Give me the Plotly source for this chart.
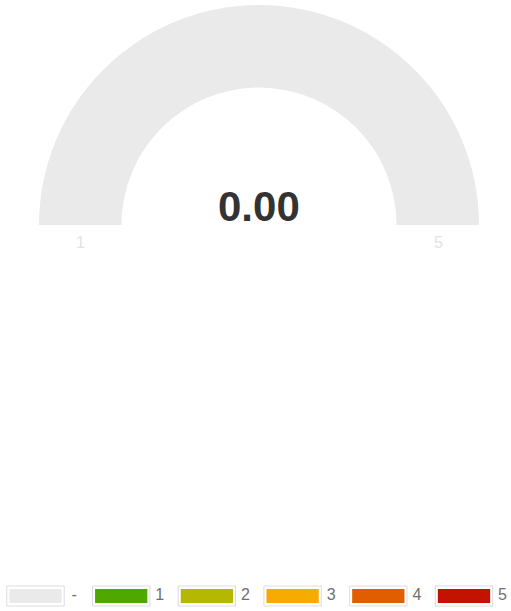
import plotly.graph_objects as go

# gauge data
gauge_value = 0.0
gauge_min = 1
gauge_max = 5
gauge_color = '#eaeaea'

# legend data
legend_labels = ['-', '1', '2', '3', '4', '5']
legend_colors = ['#eaeaea', '#4ea800', '#b5b800', '#f7aa00', '#e05e00', '#c41200']

W, H = 511, 611

fig = go.Figure()

# half ring: top half coloured, bottom half transparent
fig.add_trace(go.Pie(
    values=[1, 1],
    marker=dict(colors=[gauge_color, 'rgba(0,0,0,0)'], line=dict(width=0)),
    hole=0.625,
    rotation=-90,
    direction='clockwise',
    sort=False,
    textinfo='none',
    hoverinfo='skip',
    showlegend=False,
    domain=dict(x=[39 / W, 479 / W], y=[1 - 445 / H, 1 - 5 / H]),
))

# legend swatches drawn as bars on a hidden axis at the bottom
idx = list(range(len(legend_labels)))
fig.add_trace(go.Bar(
    x=idx, y=[20] * len(idx), base=5, width=0.67,
    marker=dict(color='white', line=dict(color='#dddddd', width=1)),
    hoverinfo='skip', showlegend=False, xaxis='x', yaxis='y',
))
fig.add_trace(go.Bar(
    x=idx, y=[14] * len(idx), base=8, width=0.61,
    marker=dict(color=legend_colors, line=dict(width=0)),
    hoverinfo='skip', showlegend=False, xaxis='x', yaxis='y',
))
fig.add_trace(go.Scatter(
    x=[i + 0.45 for i in idx], y=[15] * len(idx), mode='text',
    text=legend_labels, textfont=dict(family='Arial', size=16, color='#707070'),
    hoverinfo='skip', showlegend=False, xaxis='x', yaxis='y',
))

fig.update_layout(
    width=W, height=H,
    margin=dict(l=0, r=0, t=0, b=0),
    paper_bgcolor='white', plot_bgcolor='white',
    barmode='overlay',
    xaxis=dict(range=[-35.5 / 85.7, (W - 35.5) / 85.7], visible=False, fixedrange=True),
    yaxis=dict(range=[0, 40], domain=[0, 40 / H], visible=False, fixedrange=True),
    annotations=[
        dict(text='<b>%.2f</b>' % gauge_value, x=259 / W, y=1 - 207 / H, xref='paper', yref='paper',
             xanchor='center', yanchor='middle',
             showarrow=False, font=dict(family='Arial', size=42, color='#333333')),
        dict(text=str(gauge_min), x=80 / W, y=1 - 243 / H, xref='paper', yref='paper',
             xanchor='center', yanchor='middle',
             showarrow=False, font=dict(family='Arial', size=16, color='#e3e3e3')),
        dict(text=str(gauge_max), x=438 / W, y=1 - 243 / H, xref='paper', yref='paper',
             xanchor='center', yanchor='middle',
             showarrow=False, font=dict(family='Arial', size=16, color='#e3e3e3')),
    ],
)

fig.write_html("out.html", config={'displayModeBar': False},
               post_script="document.body.style.margin='0px';")
